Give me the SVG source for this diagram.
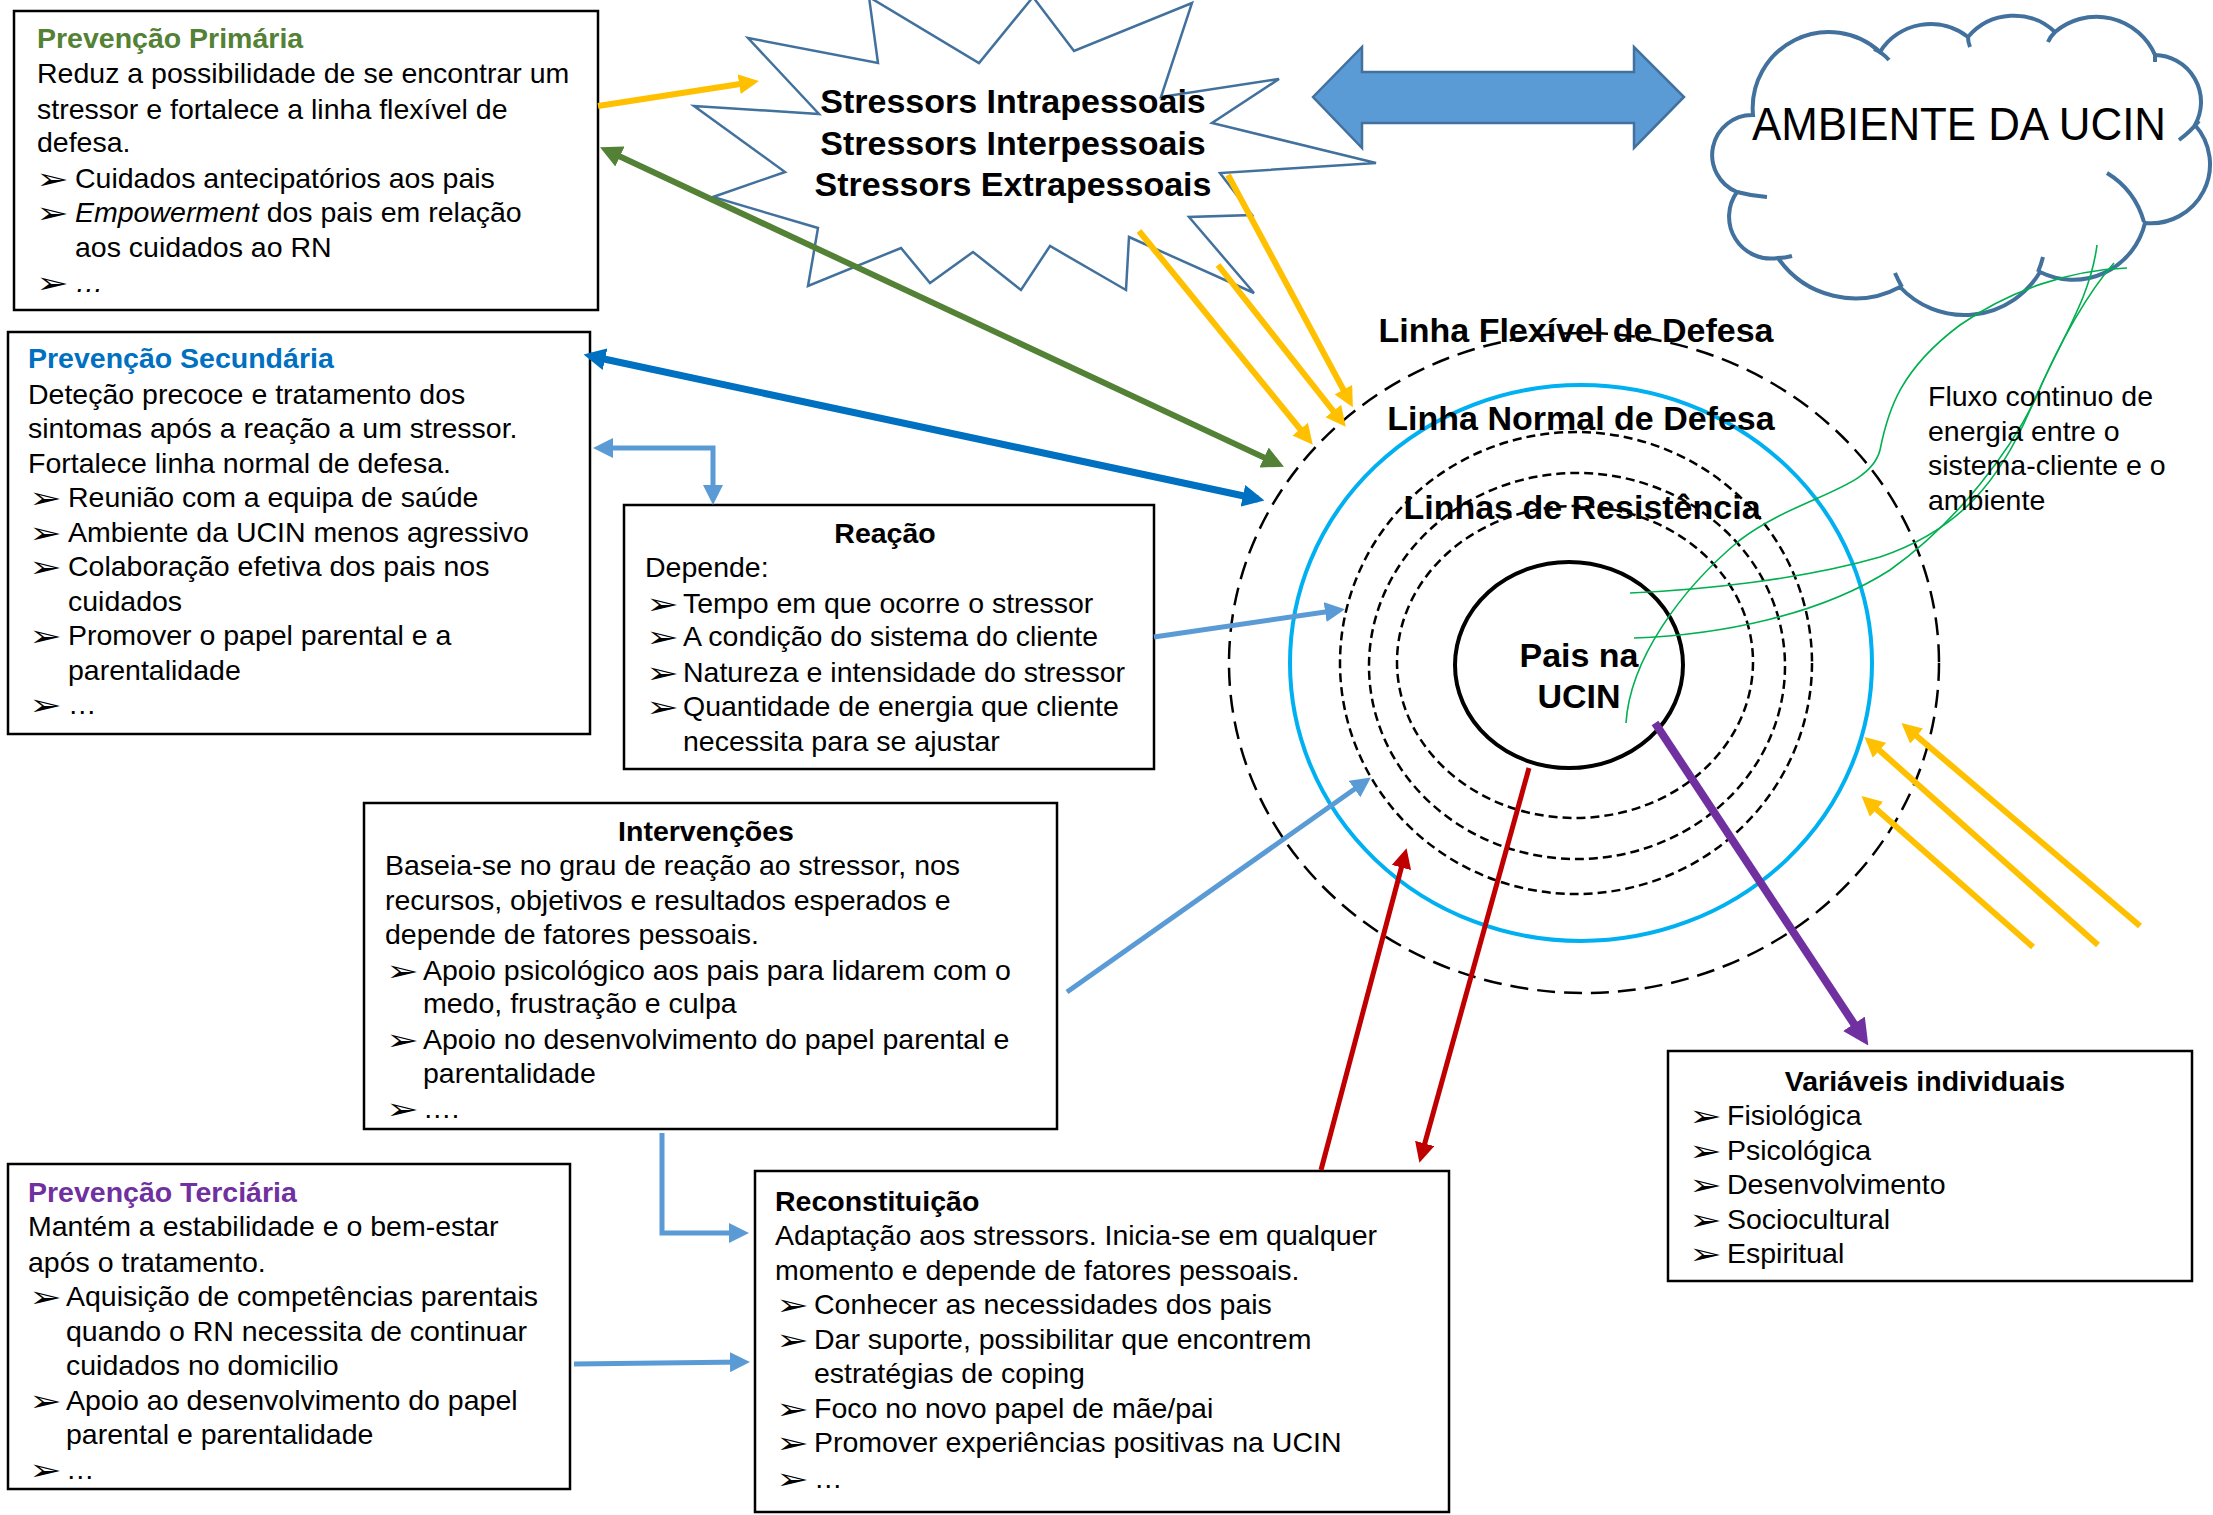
<svg xmlns="http://www.w3.org/2000/svg" xmlns:xlink="http://www.w3.org/1999/xlink" width="2213" height="1515" viewBox="0 0 2213 1515">
<style>
  text { font-family: "Liberation Sans", Arial, sans-serif; fill: #000; }
  .t { font-size: 28.5px; }
  .h { font-size: 28.5px; font-weight: bold; }
  .bl { font-family: "DejaVu Sans", sans-serif; font-size: 29px; }
  .it { font-style: italic; }
  .cg { fill: #538135; }
  .cb { fill: #0070C0; }
  .cp { fill: #7030A0; }
  .box { fill: #fff; stroke: #000; stroke-width: 2.5; }
  .lbl { font-size: 34px; font-weight: bold; text-anchor: middle; }
  .mid { text-anchor: middle; }
  .ring { fill: none; }
  .flow { fill: none; stroke: #00B050; stroke-width: 1.6; }
</style>
<defs>
  <text id="bullet" class="bl" transform="scale(1.35,1)">➢</text>
  <marker id="ah-yellow" viewBox="0 0 10 10" refX="7" refY="5" markerWidth="20" markerHeight="20" markerUnits="userSpaceOnUse" orient="auto-start-reverse"><path d="M0,0 L10,5 L0,10 z" fill="#FFC000"/></marker>
  <marker id="ah-green" viewBox="0 0 10 10" refX="7" refY="5" markerWidth="22" markerHeight="22" markerUnits="userSpaceOnUse" orient="auto-start-reverse"><path d="M0,0 L10,5 L0,10 z" fill="#538135"/></marker>
  <marker id="ah-blue" viewBox="0 0 10 10" refX="7" refY="5" markerWidth="22" markerHeight="22" markerUnits="userSpaceOnUse" orient="auto-start-reverse"><path d="M0,0 L10,5 L0,10 z" fill="#0070C0"/></marker>
  <marker id="ah-light" viewBox="0 0 10 10" refX="7" refY="5" markerWidth="20" markerHeight="20" markerUnits="userSpaceOnUse" orient="auto-start-reverse"><path d="M0,0 L10,5 L0,10 z" fill="#5B9BD5"/></marker>
  <marker id="ah-red" viewBox="0 0 10 10" refX="7" refY="5" markerWidth="20" markerHeight="20" markerUnits="userSpaceOnUse" orient="auto-start-reverse"><path d="M0,0 L10,5 L0,10 z" fill="#C00000"/></marker>
  <marker id="ah-purple" viewBox="0 0 10 10" refX="7" refY="5" markerWidth="26" markerHeight="26" markerUnits="userSpaceOnUse" orient="auto-start-reverse"><path d="M0,0 L10,5 L0,10 z" fill="#7030A0"/></marker>
</defs>
<rect width="2213" height="1515" fill="#fff"/>

<!-- stressor explosion -->
<g id="stressors">
  <polygon points="748,38 878,63 869,-3 979,63 1033,-3 1074,51 1192,3 1161,97 1279,79 1212,123 1376,163 1220,173 1252,215 1189,217 1254,293 1129,237 1126,290 1050,246 1021,290 973,252 930,283 901,248 808,286 818,228 713,197 785,172 694,106 819,114" fill="#fff" stroke="#41719C" stroke-width="2.5" stroke-linejoin="miter"/>
  <text class="lbl"><tspan x="1013" y="113">Stressors Intrapessoais</tspan><tspan x="1013" y="155">Stressors Interpessoais</tspan><tspan x="1013" y="196">Stressors Extrapessoais</tspan></text>
</g>

<!-- two-way block arrow -->
<g id="exchange-arrow">
  <polygon points="1313,97 1362,47 1362,72 1634,72 1634,47 1684,97 1634,148 1634,123 1362,123 1362,148" fill="#5B9BD5" stroke="#41719C" stroke-width="2.5"/>
</g>

<!-- environment cloud -->
<g id="ambiente">
  <path d="M1753,115 A76,76 0 0 1 1880,52 A60,60 0 0 1 1968,37 A60,60 0 0 1 2055,32 A64,64 0 0 1 2155,55 A47,47 0 0 1 2195,125 A59,59 0 0 1 2145,223 A74,74 0 0 1 2040,272 A88,88 0 0 1 1900,287 A94,94 0 0 1 1778,258 A42,42 0 0 1 1737,192 A40,40 0 0 1 1753,115 Z" fill="#fff" stroke="#41719C" stroke-width="4"/>
  <g fill="none" stroke="#41719C" stroke-width="4">
    <path d="M1874,49 Q1883,53 1889,60"/>
    <path d="M1968,37 Q1968,42 1970,47"/>
    <path d="M2055,32 Q2050,37 2048,42"/>
    <path d="M2155,53 L2155,62"/>
    <path d="M2199,121 Q2190,132 2179,140"/>
    <path d="M2107,173 Q2135,190 2144,222"/>
    <path d="M2043,257 Q2041,265 2038,272"/>
    <path d="M1895,273 Q1898,280 1902,287"/>
    <path d="M1778,258 Q1785,258 1792,256"/>
    <path d="M1737,192 Q1752,196 1767,197"/>
  </g>
  <text x="1959" y="140" font-family="Lato, 'Liberation Sans', sans-serif" font-size="46" text-anchor="middle" textLength="414" lengthAdjust="spacingAndGlyphs">AMBIENTE DA UCIN</text>
</g>

<!-- defence rings around the client system -->
<g id="rings">
  <ellipse class="ring" cx="1584" cy="663" rx="355" ry="330" stroke="#000" stroke-width="2.5" stroke-dasharray="18 9"/>
  <ellipse class="ring" cx="1581" cy="663" rx="291" ry="278" stroke="#00B0F0" stroke-width="4"/>
  <ellipse class="ring" cx="1576" cy="663" rx="236" ry="231" stroke="#000" stroke-width="2.5" stroke-dasharray="9 5"/>
  <ellipse class="ring" cx="1577" cy="666" rx="208" ry="193" stroke="#000" stroke-width="2.5" stroke-dasharray="9 5"/>
  <ellipse class="ring" cx="1575" cy="662" rx="178" ry="156" stroke="#000" stroke-width="2.5" stroke-dasharray="9 5"/>
</g>
<g id="pais-na-ucin">
  <ellipse cx="1569" cy="665" rx="114" ry="103" fill="none" stroke="#000" stroke-width="4"/>
</g>

<!-- text boxes -->
<g id="prevencao-primaria">
  <rect class="box" x="14" y="11" width="584" height="299"/>
  <text class="t">
    <tspan class="h cg" x="37" y="48">Prevenção Primária</tspan>
    <tspan x="37" y="83">Reduz a possibilidade de se encontrar um</tspan>
    <tspan x="37" y="119">stressor e fortalece a linha flexível de</tspan>
    <tspan x="37" y="152">defesa.</tspan>
    <tspan x="75" y="188">Cuidados antecipatórios aos pais</tspan>
    <tspan class="it" x="75" y="222">Empowerment</tspan><tspan> dos pais em relação</tspan>
    <tspan x="75" y="257">aos cuidados ao RN</tspan>
    <tspan class="it" x="75" y="292">…</tspan>
  </text>
  <use xlink:href="#bullet" transform="translate(36,189)"/>
  <use xlink:href="#bullet" transform="translate(36,223)"/>
  <use xlink:href="#bullet" transform="translate(36,293)"/>
</g>

<g id="prevencao-secundaria">
  <rect class="box" x="8" y="332" width="582" height="402"/>
  <text class="t">
    <tspan class="h cb" x="28" y="368">Prevenção Secundária</tspan>
    <tspan x="28" y="404">Deteção precoce e tratamento dos</tspan>
    <tspan x="28" y="438">sintomas após a reação a um stressor.</tspan>
    <tspan x="28" y="473">Fortalece linha normal de defesa.</tspan>
    <tspan x="68" y="507">Reunião com a equipa de saúde</tspan>
    <tspan x="68" y="542">Ambiente da UCIN menos agressivo</tspan>
    <tspan x="68" y="576">Colaboração efetiva dos pais nos</tspan>
    <tspan x="68" y="611">cuidados</tspan>
    <tspan x="68" y="645">Promover o papel parental e a</tspan>
    <tspan x="68" y="680">parentalidade</tspan>
    <tspan x="68" y="714">…</tspan>
  </text>
  <use xlink:href="#bullet" transform="translate(29,508)"/>
  <use xlink:href="#bullet" transform="translate(29,543)"/>
  <use xlink:href="#bullet" transform="translate(29,577)"/>
  <use xlink:href="#bullet" transform="translate(29,646)"/>
  <use xlink:href="#bullet" transform="translate(29,715)"/>
</g>

<g id="reacao">
  <rect class="box" x="624" y="505" width="530" height="264"/>
  <text class="t">
    <tspan class="h mid" x="889" y="543">Reação</tspan>
    <tspan x="645" y="577">Depende:</tspan>
    <tspan x="683" y="613">Tempo em que ocorre o stressor</tspan>
    <tspan x="683" y="646">A condição do sistema do cliente</tspan>
    <tspan x="683" y="682">Natureza e intensidade do stressor</tspan>
    <tspan x="683" y="716">Quantidade de energia que cliente</tspan>
    <tspan x="683" y="751">necessita para se ajustar</tspan>
  </text>
  <use xlink:href="#bullet" transform="translate(646,614)"/>
  <use xlink:href="#bullet" transform="translate(646,647)"/>
  <use xlink:href="#bullet" transform="translate(646,683)"/>
  <use xlink:href="#bullet" transform="translate(646,717)"/>
</g>

<g id="intervencoes">
  <rect class="box" x="364" y="803" width="693" height="326"/>
  <text class="t">
    <tspan class="h mid" x="710" y="841">Intervenções</tspan>
    <tspan x="385" y="875">Baseia-se no grau de reação ao stressor, nos</tspan>
    <tspan x="385" y="910">recursos, objetivos e resultados esperados e</tspan>
    <tspan x="385" y="944">depende de fatores pessoais.</tspan>
    <tspan x="423" y="980">Apoio psicológico aos pais para lidarem com o</tspan>
    <tspan x="423" y="1013">medo, frustração e culpa</tspan>
    <tspan x="423" y="1049">Apoio no desenvolvimento do papel parental e</tspan>
    <tspan x="423" y="1083">parentalidade</tspan>
    <tspan x="423" y="1118">….</tspan>
  </text>
  <use xlink:href="#bullet" transform="translate(386,981)"/>
  <use xlink:href="#bullet" transform="translate(386,1050)"/>
  <use xlink:href="#bullet" transform="translate(386,1119)"/>
</g>

<g id="prevencao-terciaria">
  <rect class="box" x="8" y="1164" width="562" height="325"/>
  <text class="t">
    <tspan class="h cp" x="28" y="1202">Prevenção Terciária</tspan>
    <tspan x="28" y="1236">Mantém a estabilidade e o bem-estar</tspan>
    <tspan x="28" y="1272">após o tratamento.</tspan>
    <tspan x="66" y="1306">Aquisição de competências parentais</tspan>
    <tspan x="66" y="1341">quando o RN necessita de continuar</tspan>
    <tspan x="66" y="1375">cuidados no domicilio</tspan>
    <tspan x="66" y="1410">Apoio ao desenvolvimento do papel</tspan>
    <tspan x="66" y="1444">parental e parentalidade</tspan>
    <tspan x="66" y="1479">…</tspan>
  </text>
  <use xlink:href="#bullet" transform="translate(29,1307)"/>
  <use xlink:href="#bullet" transform="translate(29,1411)"/>
  <use xlink:href="#bullet" transform="translate(29,1480)"/>
</g>

<g id="reconstituicao">
  <rect class="box" x="755" y="1171" width="694" height="341"/>
  <text class="t">
    <tspan class="h" x="775" y="1211">Reconstituição</tspan>
    <tspan x="775" y="1245">Adaptação aos stressors. Inicia-se em qualquer</tspan>
    <tspan x="775" y="1280">momento e depende de fatores pessoais.</tspan>
    <tspan x="814" y="1314">Conhecer as necessidades dos pais</tspan>
    <tspan x="814" y="1349">Dar suporte, possibilitar que encontrem</tspan>
    <tspan x="814" y="1383">estratégias de coping</tspan>
    <tspan x="814" y="1418">Foco no novo papel de mãe/pai</tspan>
    <tspan x="814" y="1452">Promover experiências positivas na UCIN</tspan>
    <tspan x="814" y="1488">…</tspan>
  </text>
  <use xlink:href="#bullet" transform="translate(776,1315)"/>
  <use xlink:href="#bullet" transform="translate(776,1350)"/>
  <use xlink:href="#bullet" transform="translate(776,1419)"/>
  <use xlink:href="#bullet" transform="translate(776,1453)"/>
  <use xlink:href="#bullet" transform="translate(776,1489)"/>
</g>

<g id="variaveis-individuais">
  <rect class="box" x="1668" y="1051" width="524" height="230"/>
  <text class="t">
    <tspan class="h mid" x="1929" y="1091">Variáveis individuais</tspan>
    <tspan x="1727" y="1125">Fisiológica</tspan>
    <tspan x="1727" y="1160">Psicológica</tspan>
    <tspan x="1727" y="1194">Desenvolvimento</tspan>
    <tspan x="1727" y="1229">Sociocultural</tspan>
    <tspan x="1727" y="1263">Espiritual</tspan>
  </text>
  <use xlink:href="#bullet" transform="translate(1689,1126)"/>
  <use xlink:href="#bullet" transform="translate(1689,1161)"/>
  <use xlink:href="#bullet" transform="translate(1689,1195)"/>
  <use xlink:href="#bullet" transform="translate(1689,1230)"/>
  <use xlink:href="#bullet" transform="translate(1689,1264)"/>
</g>

<!-- connectors -->
<g id="connectors" fill="none">
  <path d="M598,106 L753,82" stroke="#FFC000" stroke-width="6" marker-end="url(#ah-yellow)"/>
  <path d="M606,150 L1278,464" stroke="#538135" stroke-width="6" marker-start="url(#ah-green)" marker-end="url(#ah-green)"/>
  <path d="M590,356 L1258,499" stroke="#0070C0" stroke-width="7" marker-start="url(#ah-blue)" marker-end="url(#ah-blue)"/>
  <path d="M599,448 L713,448 L713,499" stroke="#5B9BD5" stroke-width="5" marker-start="url(#ah-light)" marker-end="url(#ah-light)"/>
  <path d="M1154,637 L1339,610" stroke="#5B9BD5" stroke-width="5" marker-end="url(#ah-light)"/>
  <path d="M1067,992 L1366,781" stroke="#5B9BD5" stroke-width="5" marker-end="url(#ah-light)"/>
  <path d="M662,1133 L662,1233 L743,1233" stroke="#5B9BD5" stroke-width="5" marker-end="url(#ah-light)"/>
  <path d="M574,1364 L744,1362" stroke="#5B9BD5" stroke-width="5" marker-end="url(#ah-light)"/>
  <path d="M1321,1170 L1405,854" stroke="#C00000" stroke-width="5" marker-end="url(#ah-red)"/>
  <path d="M1529,768 L1421,1157" stroke="#C00000" stroke-width="5" marker-end="url(#ah-red)"/>
  <path d="M1655,723 L1864,1039" stroke="#7030A0" stroke-width="8" marker-end="url(#ah-purple)"/>
  <path d="M1139,231 L1309,440" stroke="#FFC000" stroke-width="6" marker-end="url(#ah-yellow)"/>
  <path d="M1218,265 L1342,422" stroke="#FFC000" stroke-width="6" marker-end="url(#ah-yellow)"/>
  <path d="M1228,175 L1350,402" stroke="#FFC000" stroke-width="6" marker-end="url(#ah-yellow)"/>
  <path d="M2140,926 L1906,727" stroke="#FFC000" stroke-width="6" marker-end="url(#ah-yellow)"/>
  <path d="M2098,945 L1869,741" stroke="#FFC000" stroke-width="6" marker-end="url(#ah-yellow)"/>
  <path d="M2033,947 L1866,800" stroke="#FFC000" stroke-width="6" marker-end="url(#ah-yellow)"/>
</g>

<!-- continuous energy flow between client system and environment -->
<g id="energy-flow">
  <path class="flow" d="M1626,723 C1630,660 1680,590 1740,540 C1800,495 1870,490 1880,450 C1888,410 1900,370 1960,325 C2010,290 2070,270 2127,268"/>
  <path class="flow" d="M1630,593 C1700,590 1800,580 1880,557 C1960,530 2000,480 2030,410 C2060,340 2090,300 2097,245"/>
  <path class="flow" d="M1634,638 C1720,635 1820,615 1890,570 C1960,520 2010,450 2035,400 C2060,340 2090,290 2114,263"/>
</g>

<!-- ring labels -->
<g id="ring-labels">
  <text class="lbl" x="1576" y="342">Linha Flexível de Defesa</text>
  <text class="lbl" x="1581" y="430">Linha Normal de Defesa</text>
  <text class="lbl" x="1582" y="519">Linhas de Resistência</text>
  <text class="lbl"><tspan x="1579" y="667">Pais na</tspan><tspan x="1579" y="708">UCIN</tspan></text>
  <text class="t"><tspan x="1928" y="406">Fluxo continuo de</tspan><tspan x="1928" y="441">energia entre o</tspan><tspan x="1928" y="475">sistema-cliente e o</tspan><tspan x="1928" y="510">ambiente</tspan></text>
</g>
</svg>
